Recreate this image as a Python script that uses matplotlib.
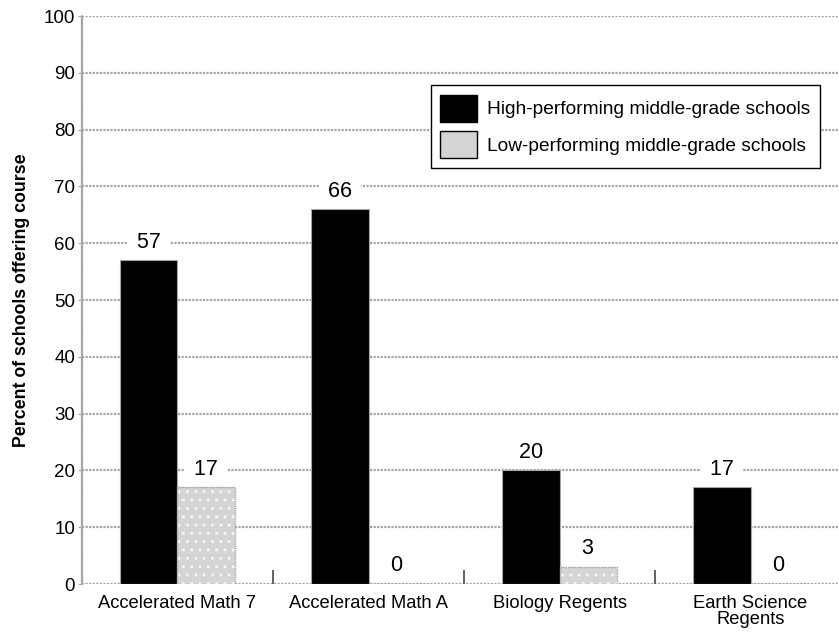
import numpy as np
import matplotlib
matplotlib.use("Agg")
import matplotlib.pyplot as plt
from matplotlib.patches import Patch

plt.rcParams["font.family"] = ["Liberation Sans", "DejaVu Sans"]

# ============ 数据 ============
categories = ["Accelerated Math 7", "Accelerated Math A", "Biology Regents",
              "Earth Science\nRegents"]
high_perf = [57, 66, 20, 17]
low_perf = [17, 0, 3, 0]
series_names = ["High-performing middle-grade schools",
                "Low-performing middle-grade schools"]

GRID_C = "#a6a6a6"
GRAY_BAR = "#d4d4d4"

fig = plt.figure(figsize=(8.39, 6.38), dpi=100)
ax = fig.add_axes([0.0977, 0.0846, 0.9023, 0.8903])

x = np.arange(len(categories))
w = 0.30

# 网格线
for yv in range(0, 101, 10):
    ax.axhline(yv, color=GRID_C, linewidth=1.6, linestyle=(0, (1, 0.6)), zorder=1)

# 柱子
ax.bar(x - w / 2, high_perf, w, color="black", edgecolor=GRID_C,
       linewidth=0.8, zorder=3)
ax.bar(x + w / 2, low_perf, w, color=GRAY_BAR, edgecolor="#eef8f8",
       hatch="..", linewidth=0, zorder=3)
ax.bar(x + w / 2, low_perf, w, color="none", edgecolor=GRID_C,
       linewidth=1.0, linestyle=(0, (1, 0.6)), zorder=4)

# 数值标签
def add_labels(xs, vals):
    for xi, v in zip(xs, vals):
        ax.annotate(f" {v} ", (xi, v), xytext=(0, 13), textcoords="offset points",
                    ha="center", va="center", fontsize=15.5, zorder=5,
                    bbox=dict(boxstyle="square,pad=0.15", facecolor="white",
                              edgecolor="none"))

add_labels(x - w / 2, high_perf)
add_labels(x + w / 2, low_perf)

ax.set_xlim(-0.5, 3.463)
ax.set_ylim(0, 100)
ax.set_yticks(range(0, 101, 10))
ax.tick_params(axis="y", labelsize=13.5, length=3, color=GRID_C, pad=2)
ax.set_xticks(x)
ax.set_xticklabels(categories, fontsize=13.2, linespacing=0.9)
ax.tick_params(axis="x", length=0, pad=8)
ax.set_xticks(np.arange(-0.5, 3.0, 1.0), minor=True)
ax.tick_params(axis="x", which="minor", direction="in", length=10,
               width=1.3, color="#555555")

for s in ["top", "right", "bottom"]:
    ax.spines[s].set_visible(False)
ax.spines["left"].set_color(GRID_C)
ax.spines["left"].set_linewidth(1.6)
ax.spines["left"].set_linestyle((0, (1, 0.6)))

ax.set_ylabel("Percent of schools offering course", fontsize=12.8,
              fontweight="bold", labelpad=10)

handles = [Patch(facecolor="black", edgecolor="black", linewidth=1),
           Patch(facecolor=GRAY_BAR, edgecolor="black", linewidth=1)]
leg = ax.legend(handles, series_names, loc="upper right",
                bbox_to_anchor=(0.975, 0.8785), fontsize=13.8, fancybox=False,
                edgecolor="black", framealpha=1, handlelength=1.9,
                handleheight=1.8, handletextpad=0.55, labelspacing=0.5,
                borderpad=0.5, borderaxespad=0)
leg.get_frame().set_linewidth(1.0)
leg.set_zorder(6)

fig.savefig("out.png", dpi=100, facecolor="white")
